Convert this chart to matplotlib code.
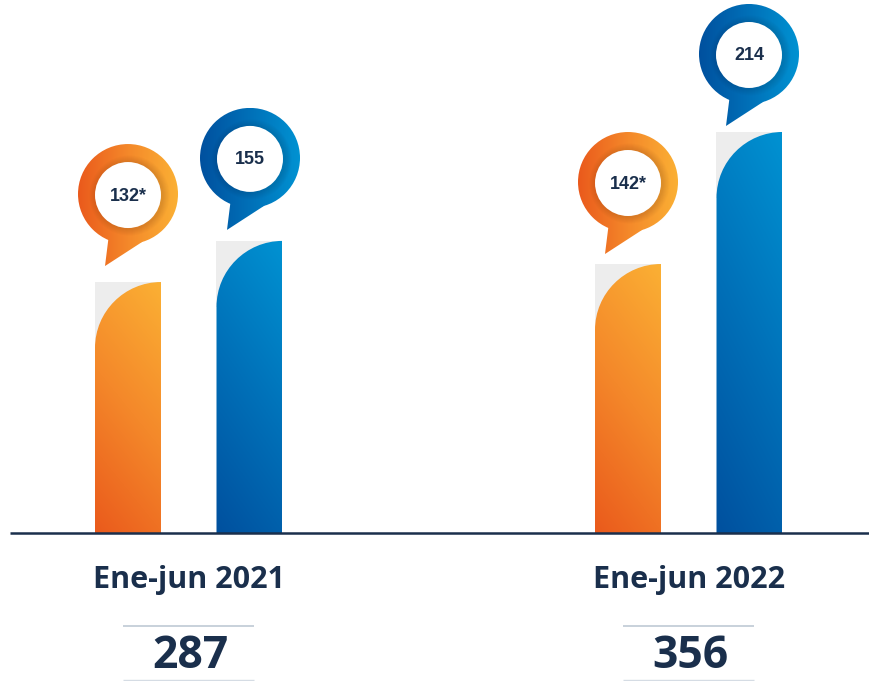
import numpy as np
import matplotlib
matplotlib.use("Agg")
import matplotlib.pyplot as plt
from matplotlib.path import Path
from matplotlib.patches import PathPatch, Ellipse, Rectangle
from matplotlib.colors import LinearSegmentedColormap

periods = ["Ene-jun 2021", "Ene-jun 2022"]
totals = ["287", "356"]
labels = ["132*", "155", "142*", "214"]
values = [133.1, 155.0, 142.7, 213.0]   # bar heights
kinds = ["orange", "blue", "orange", "blue"]
bar_x = [128, 249.5, 628, 749.5]
period_x = [189, 689]
pin_x = [128, 250, 628, 749]
pin_gap = [88, 83, 82, 78]

NAVY = "#1A2F4C"
K = 1.878        # pixels per unit
BASE = 532       # baseline pixel row
cmaps = {
    "orange": LinearSegmentedColormap.from_list("o", ["#EA5A1C", "#F4882A", "#FBB034"]),
    "blue": LinearSegmentedColormap.from_list("b", ["#00509E", "#0070B8", "#0092D2"]),
}

fig = plt.figure(figsize=(8.7, 6.81), dpi=100)
ax = fig.add_axes([0, 0, 1, 1])
ax.axis("off")


def u(px):
    return px / K


def gy(py):
    return (BASE - py) / K


def gradient(cmap, extent, clip, angle=0.0, z=2):
    """angle 0: left to right; angle 90: bottom to top"""
    n = 200
    xx, yy = np.meshgrid(np.linspace(0, 1, n), np.linspace(0, 1, n))
    a = np.deg2rad(angle)
    g = xx * np.cos(a) + yy * np.sin(a)
    g = (g - g.min()) / (g.max() - g.min())
    im = ax.imshow(g, cmap=cmap, origin="lower", extent=extent, aspect="auto",
                   zorder=z, vmin=0, vmax=1, interpolation="bilinear")
    p = PathPatch(clip, transform=ax.transData, fc="none", ec="none")
    ax.add_patch(p)
    im.set_clip_path(p)


BW = 66
for x, v, kind in zip(bar_x, values, kinds):
    l, r = x - BW / 2, x + BW / 2
    ry = u(66)
    c = 0.5523
    ax.add_patch(Rectangle((l, v - ry), BW, ry, fc="#EDEDED", ec="none", zorder=1))
    verts = [(l, -u(1)), (l, v - ry), (l, v - ry + c * ry), (r - BW + BW * (1 - c), v),
             (r, v), (r, -u(1)), (l, -u(1))]
    codes = [Path.MOVETO, Path.LINETO, Path.CURVE4, Path.CURVE4, Path.CURVE4,
             Path.LINETO, Path.CLOSEPOLY]
    gradient(cmaps[kind], (l, r, -u(1), v), Path(verts, codes), angle=72)

R, r_in = 50, 33
for x, v, gap, kind, lab in zip(pin_x, values, pin_gap, kinds, labels):
    cy = v + u(gap)
    circ = Path.unit_circle().transformed(
        matplotlib.transforms.Affine2D().scale(R, u(R)).translate(x, cy))
    tail = Path([(x - 19.5, cy - u(44)), (x - 23, cy - u(72)), (x + 14, cy - u(48)),
                 (x + 20, cy - u(40)), (x - 19.5, cy - u(44))],
                [Path.MOVETO, Path.LINETO, Path.LINETO, Path.LINETO, Path.CLOSEPOLY])
    ext = (x - R, x + R, cy - u(75), cy + u(R))
    gradient(cmaps[kind], ext, tail, z=3)
    gradient(cmaps[kind], ext, circ, z=3)
    # soft shadow of the white disc
    for dr in range(1, 8):
        ax.add_patch(Ellipse((x + 1.5, cy - u(1.5)), 2 * (r_in + dr), u(2 * (r_in + dr)),
                             fc="black", ec="none", alpha=0.014, zorder=4))
    ax.add_patch(Ellipse((x, cy - u(1)), 2 * r_in, u(2 * r_in), fc="white", ec="none", zorder=5))
    ax.text(x, cy - u(2), lab, ha="center", va="center", color=NAVY, fontsize=13,
            fontweight="bold", family="Liberation Sans", zorder=6)

ax.plot([10, 870], [gy(532.5)] * 2, color=NAVY, lw=1.8, solid_capstyle="butt", zorder=7)

for x, period, total in zip(period_x, periods, totals):
    ax.text(x, gy(580), period, ha="center", va="center", color=NAVY, fontsize=22,
            fontweight="bold", family="Open Sans")
    ax.text(x + 1, gy(656), total, ha="center", va="center", color=NAVY, fontsize=32,
            fontweight="bold", family="Open Sans")
    ax.plot([x - 66, x + 65], [gy(625.5)] * 2, color="#B9C5D1", lw=1.1, solid_capstyle="butt")
    ax.plot([x - 66, x + 65], [gy(680)] * 2, color="#D5DCE4", lw=1.0, solid_capstyle="butt")

ax.set_xlim(0, 870)
ax.set_ylim(gy(681), gy(0))
fig.savefig("out.png", dpi=100, facecolor="white")
